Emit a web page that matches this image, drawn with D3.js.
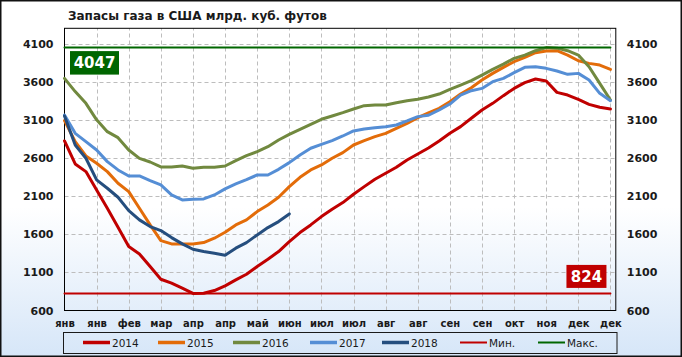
<!DOCTYPE html>
<html><head><meta charset="utf-8">
<script src="https://cdn.jsdelivr.net/npm/d3@7"></script>
<style>body{margin:0;background:#fff}svg{display:block}</style>
</head><body>
<svg id="c" width="682" height="357"></svg>
<script>
const title = "Запасы газа в США млрд. куб. футов";
const tickLabels = ["янв","янв","фев","мар","апр","апр","май","июн","июл","июл","авг","авг","сен","сен","окт","ноя","дек","дек"];
const yTicks = [600,1100,1600,2100,2600,3100,3600,4100];
const s2014 = [2823,2521,2421,2181,1940,1692,1438,1342,1176,1010,958,892,824,826,862,923,1001,1075,1176,1272,1373,1504,1622,1722,1831,1927,2015,2124,2224,2320,2399,2478,2574,2652,2730,2823,2923,3011,3120,3229,3316,3417,3512,3587,3635,3609,3460,3425,3368,3303,3264,3242];
const s2015 = [3090,2814,2626,2530,2421,2268,2159,1940,1722,1517,1473,1473,1473,1491,1548,1626,1722,1788,1897,1984,2085,2224,2347,2443,2508,2596,2670,2770,2827,2879,2923,2988,3054,3129,3190,3251,3338,3438,3521,3622,3709,3788,3862,3919,3980,4002,4006,3949,3875,3840,3818,3762];
const s2016 = [3644,3470,3316,3100,2945,2866,2705,2595,2547,2482,2482,2495,2465,2478,2478,2495,2565,2630,2683,2748,2836,2910,2976,3041,3107,3150,3194,3242,3286,3294,3294,3325,3351,3369,3400,3438,3499,3556,3613,3687,3762,3831,3906,3949,4006,4047,4040,4006,3949,3796,3578,3360];
const s2017 = [3163,2923,2814,2705,2552,2443,2364,2364,2303,2246,2115,2050,2059,2063,2115,2194,2259,2315,2377,2377,2451,2539,2639,2727,2779,2827,2888,2954,2980,2997,3010,3032,3085,3142,3160,3229,3307,3425,3482,3512,3600,3643,3718,3788,3796,3775,3740,3696,3709,3622,3447,3351];
const s2018 = [3150,2770,2596,2312,2203,2085,1910,1788,1700,1648,1556,1473,1403,1373,1351,1325,1417,1490,1591,1687,1766,1866];
const minValue = 824;
const maxValue = 4047;
const seriesNames = ["2014","2015","2016","2017","2018","Мин.","Макс."];
const seriesColors = ["#C00000","#E36C09","#71893F","#558ED5","#254E7E","#C00000","#006600"];

const nWeeks = s2014.length;
const minSeries = d3.range(nWeeks).map(() => minValue);
const maxSeries = d3.range(nWeeks).map(() => maxValue);
const allSeries = [s2014, s2015, s2016, s2017, s2018, minSeries, maxSeries];

const svg = d3.select("#c");
const W = 682, H = 357;
const font = "'DejaVu Sans', Verdana, sans-serif";

const defs = svg.append("defs");
const grad = defs.append("linearGradient").attr("id","bg").attr("x1",0).attr("y1",0).attr("x2",0).attr("y2",1);
grad.append("stop").attr("offset","0.58").attr("stop-color","#ffffff");
grad.append("stop").attr("offset","1").attr("stop-color","#D6E6F8");
svg.append("rect").attr("x",0).attr("y",0).attr("width",W).attr("height",H).attr("fill","url(#bg)");

const x = d3.scaleLinear().domain([0, 51.5]).range([64.5, 615.8]);
const y = d3.scaleLinear().domain([600, 4300]).range([310.5, 28.3]);

// title
svg.append("text").attr("x",68).attr("y",20).attr("font-family",font).attr("font-weight","bold")
  .attr("font-size","12px").attr("fill","#1a1a1a").text(title);

// gridlines
const g = svg.append("g");
g.selectAll(".hg").data(yTicks.filter(v => v > 600)).join("line")
  .attr("x1", x(0)).attr("x2", x(51.5)).attr("y1", d => Math.round(y(d))+0.5).attr("y2", d => Math.round(y(d))+0.5)
  .attr("stroke","#BDBDBD").attr("stroke-dasharray","4,3");
const vIdx = d3.range(3, nWeeks, 3);
g.selectAll(".vg").data(vIdx).join("line")
  .attr("x1", d => Math.round(x(d))+0.5).attr("x2", d => Math.round(x(d))+0.5).attr("y1", y(600)).attr("y2", y(4300))
  .attr("stroke","#BDBDBD").attr("stroke-dasharray","4,3");

// frame
svg.append("rect").attr("x", x(0)).attr("y", y(4300)).attr("width", x(51.5)-x(0)).attr("height", y(600)-y(4300))
  .attr("fill","none").attr("stroke","#000").attr("stroke-width",1);

// axes
const tickIdx = d3.range(0, nWeeks, 3);
const ax = svg.append("g").attr("transform",`translate(0,${y(600)})`)
  .call(d3.axisBottom(x).tickValues(tickIdx).tickFormat((d,i) => tickLabels[i]).tickSize(0).tickPadding(9));
const ayl = svg.append("g").attr("transform",`translate(${x(0)},0)`)
  .call(d3.axisLeft(y).tickValues(yTicks).tickSize(0).tickPadding(11).tickFormat(d3.format("d")));
const ayr = svg.append("g").attr("transform",`translate(${x(51.5)},0)`)
  .call(d3.axisRight(y).tickValues(yTicks).tickSize(0).tickPadding(11).tickFormat(d3.format("d")));
[ax, ayl, ayr].forEach(a => {
  a.select(".domain").remove();
  a.selectAll("text").attr("font-family",font).attr("font-weight","bold").attr("fill","#1a1a1a");
});
ax.selectAll("text").attr("font-size","10px");
ayl.selectAll("text").attr("font-size","11px");
ayr.selectAll("text").attr("font-size","11px");

// lines
const line = d3.line().x((d,i) => x(i)).y(d => y(d));
svg.append("g").selectAll("path").data(allSeries).join("path")
  .attr("d", d => line(d)).attr("fill","none")
  .attr("stroke", (d,i) => seriesColors[i])
  .attr("stroke-width", (d,i) => i >= 5 ? 2 : 3)
  .attr("stroke-linejoin","round").attr("stroke-linecap","round");

// value labels
function valueBox(v, bx, by, w, h, color) {
  svg.append("rect").attr("x",bx).attr("y",by).attr("width",w).attr("height",h).attr("fill",color);
  svg.append("text").attr("x",bx+w/2).attr("y",by+h/2+5.5).attr("text-anchor","middle")
    .attr("font-family",font).attr("font-weight","bold").attr("font-size","15px").attr("fill","#fff").text(v);
}
valueBox(maxValue, x(0)+5.5, y(maxValue)+3.5, 49, 23.5, "#006600");
valueBox(minValue, x(51)-44, y(minValue)-28.5, 40, 23, "#C00000");

// legend
const lg = svg.append("g");
lg.append("rect").attr("x",63.5).attr("y",332.5).attr("width",553.5).attr("height",21).attr("fill","none").attr("stroke","#1a1a1a");
const lx = [83,158,233,310,382,460,538];
seriesNames.forEach((n,i) => {
  lg.append("line").attr("x1",lx[i]).attr("x2",lx[i]+27).attr("y1",342.5).attr("y2",342.5)
    .attr("stroke",seriesColors[i]).attr("stroke-width", i >= 5 ? 2 : 3.5);
  lg.append("text").attr("x",lx[i]+29).attr("y",346.5).attr("font-family",font).attr("font-size","10.5px")
    .attr("fill","#1a1a1a").text(n);
});

// outer border
svg.append("rect").attr("x",0.75).attr("y",0.75).attr("width",W-1.5).attr("height",H-1.5).attr("fill","none").attr("stroke","#111").attr("stroke-width",1.5);
</script>
</body></html>
